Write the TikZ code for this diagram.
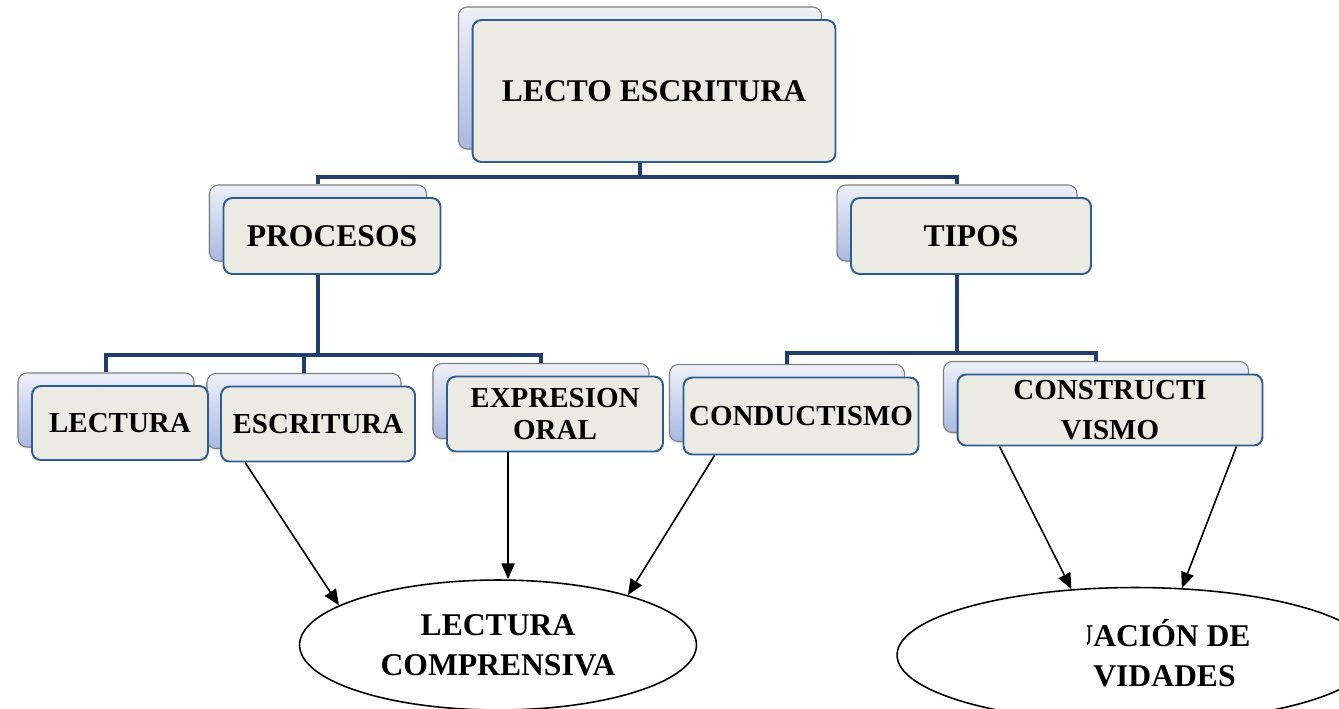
\documentclass[tikz,border=0pt]{standalone}
\usepackage{fontspec}
\setmainfont{Liberation Serif}
\usetikzlibrary{shapes.geometric,arrows.meta,shadows}
\definecolor{backtop}{HTML}{EEF0F8}
\definecolor{backbottom}{HTML}{A9B9E0}
\definecolor{frontfill}{HTML}{ECEBE3}
\definecolor{frontdraw}{HTML}{2E5D92}
\definecolor{busblue}{HTML}{1F3F70}
\tikzset{backbox/.style={rectangle, rounded corners=5pt, top color=backtop, bottom color=backbottom,
                         draw=black!50, line width=0.6pt, inner sep=0pt,
                         drop shadow={opacity=0.25, shadow xshift=-0.6pt, shadow yshift=-0.8pt}},
        frontbox/.style={rectangle, rounded corners=5pt, fill=frontfill, draw=frontdraw,
                         line width=1.1pt, inner sep=0pt, align=center,
                         font=\fontsize{18}{22}\selectfont\bfseries},
        lowbox/.style={frontbox, font=\fontsize{16.5}{18}\selectfont\bfseries},
        busline/.style={draw=busblue, line width=2.3pt},
        pointer/.style={draw=black, line width=0.9pt, -{Triangle[length=9pt,width=7.5pt]}},
        bubble/.style={ellipse, draw=black, line width=0.9pt, fill=white, inner sep=0pt, align=center,
                       font=\fontsize{18}{22.5}\selectfont\bfseries},
        }

\begin{document}
\begin{tikzpicture}[x=0.02cm, y=-0.02cm]
    \useasboundingbox (0,0) rectangle (1339,708);
    \clip (0,0) rectangle (1339,708);

    % back cards
    \node[backbox, minimum width=7.26cm, minimum height=2.84cm] (LectoEscrituraBack) at (640,78) {};
    \node[backbox, minimum width=4.34cm, minimum height=1.52cm] (ProcesosBack) at (318,223) {};
    \node[backbox, minimum width=4.8cm, minimum height=1.52cm] (TiposBack) at (957,223) {};
    \node[backbox, minimum width=3.52cm, minimum height=1.48cm] (LecturaBack) at (106,410) {};
    \node[backbox, minimum width=3.88cm, minimum height=1.5cm] (EscrituraBack) at (304,411) {};
    \node[backbox, minimum width=4.32cm, minimum height=1.5cm] (ExpresionBack) at (541,401) {};
    \node[backbox, minimum width=4.7cm, minimum height=1.54cm] (ConductismoBack) at (787,403) {};
    \node[backbox, minimum width=6.1cm, minimum height=1.42cm] (ConstructivismoBack) at (1096,397) {};

    % tree lines
    \draw[busline] (LectoEscrituraBack.south) -- ++(0,27) -| (ProcesosBack.north);
    \draw[busline] (LectoEscrituraBack.south) -- ++(0,27) -| (TiposBack.north);
    \draw[busline] (ProcesosBack.south) -- ++(0,93) -| (LecturaBack.north);
    \draw[busline] (ProcesosBack.south) -- ++(0,93) -| (EscrituraBack.north);
    \draw[busline] (ProcesosBack.south) -- ++(0,93) -| (ExpresionBack.north);
    \draw[busline] (TiposBack.south) -- ++(0,91) -| (ConductismoBack.north);
    \draw[busline] (TiposBack.south) -- ++(0,91) -| (ConstructivismoBack.north);

    % front cards
    \node[frontbox, minimum width=7.26cm, minimum height=2.84cm] (LectoEscritura) at ([shift={(14,13)}]LectoEscrituraBack) {LECTO ESCRITURA};
    \node[frontbox, minimum width=4.34cm, minimum height=1.52cm] (Procesos) at ([shift={(14,13)}]ProcesosBack) {PROCESOS};
    \node[frontbox, minimum width=4.8cm, minimum height=1.52cm] (Tipos) at ([shift={(14,13)}]TiposBack) {TIPOS};
    \node[lowbox, minimum width=3.52cm, minimum height=1.48cm] (Lectura) at ([shift={(14,13)}]LecturaBack) {LECTURA};
    \node[lowbox, minimum width=3.88cm, minimum height=1.5cm] (Escritura) at ([shift={(14,13)}]EscrituraBack) {ESCRITURA};
    \node[lowbox, minimum width=4.32cm, minimum height=1.5cm] (Expresion) at ([shift={(14,13)}]ExpresionBack) {EXPRESION\\ORAL};
    \node[lowbox, minimum width=4.7cm, minimum height=1.54cm] (Conductismo) at ([shift={(14,13)}]ConductismoBack) {CONDUCTISMO};
    \node[lowbox, font=\fontsize{16.5}{23}\selectfont\bfseries, minimum width=6.1cm, minimum height=1.42cm] (Constructivismo) at ([shift={(14,13)}]ConstructivismoBack) {CONSTRUCTI\\VISMO};

    % results
    \node[bubble, minimum width=7.94cm, minimum height=2.6cm] (LecturaComp) at (498,645) {LECTURA\\COMPRENSIVA};
    \node[bubble, minimum width=9.52cm, minimum height=2.7cm] (Adecuacion) at (1135,655) {};
    \begin{scope}
        \clip (1087,600) rectangle (1300,700);
        \node[anchor=west, align=left, inner sep=0pt, font=\fontsize{18}{22.5}\selectfont\bfseries] (AdecuacionText) at (1093,653) {\llap{U}ACIÓN DE\\VIDADES};
    \end{scope}

    \draw[pointer] ([shift={(25,0)}]Escritura.south west) -- (LecturaComp.166);
    \draw[pointer] ([shift={(62,0)}]Expresion.south west) -- ([shift={(62,0)}]Expresion.south west |- LecturaComp.north);
    \draw[pointer] ([shift={(32,0)}]Conductismo.south west) -- (LecturaComp.21);
    \draw[pointer] ([shift={(43,0)}]Constructivismo.south west) -- (Adecuacion.134);
    \draw[pointer] ([shift={(-27,0)}]Constructivismo.south east) -- (Adecuacion.55);
\end{tikzpicture}
\end{document}
